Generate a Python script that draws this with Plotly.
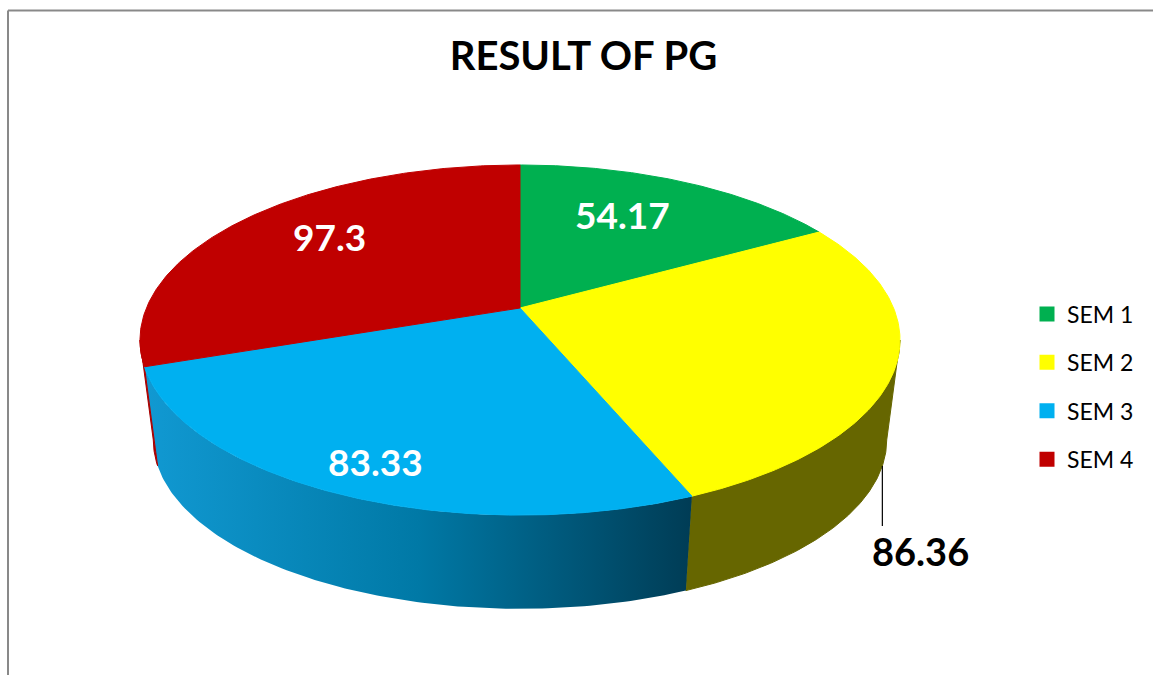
import numpy as np
import plotly.graph_objects as go

# ---------------- data ----------------
semesters = ["SEM 1", "SEM 2", "SEM 3", "SEM 4"]
results = [54.17, 86.36, 83.33, 97.3]
top_colors = ["#00B050", "#FFFF00", "#00B0F0", "#C00000"]
side_colors = ["#00703a", "#666600", "#0079a6", "#a80000"]
blue_side_scale = [[0, "#1199d2"], [0.5, "#0079a6"], [1, "#003c55"]]
label_colors = ["white", "black", "white", "white"]
label_outside = [False, True, False, False]
label_radius = [0.65, 1.0, 0.86, 0.70]
label_nudge = [(-9, -7), (0, -2), (9, -1), (8, -8)]
title_text = "RESULT OF PG"

# ---------------- pseudo 3D geometry (perspective projected disc) ----------------
W, H = 1153, 675
CX, CY = 520, 308        # projected centre of the top face
G, S, K = 373.6, 169.2, 0.183
SB, TB = 0.965, 101      # bottom face scale and drop


def top_pt(theta, rho=1.0):
    c, s = np.cos(theta), np.sin(theta)
    den = 1 + K * rho * c
    return CX + G * rho * s / den, CY - S * rho * c / den


def bot_pt(theta):
    c, s = np.cos(theta), np.sin(theta)
    den = 1 + K * c
    return CX + G * SB * s / den, CY + TB - S * SB * c / den


vals = np.array(results, dtype=float)
cum = np.concatenate([[0], np.cumsum(vals)]) / vals.sum() * 2 * np.pi
theta_s = np.arccos(-K)
vis_lo, vis_hi = theta_s, 2 * np.pi - theta_s

fig = go.Figure()

# side walls
for i in range(len(vals)):
    a, b = max(cum[i], vis_lo), min(cum[i + 1], vis_hi)
    if b <= a:
        continue
    th = np.linspace(a, b, 120)
    tx, ty = top_pt(th)
    bx, by = bot_pt(th[::-1])
    xs = np.concatenate([tx, bx, tx[:1]])
    ys = np.concatenate([ty, by, ty[:1]])
    kw = dict(x=xs, y=ys, mode="lines", fill="toself", hoverinfo="skip",
              showlegend=False)
    if i == 2:
        fig.add_trace(go.Scatter(**kw, line=dict(width=0, color=side_colors[i]),
                                 fillgradient=dict(type="horizontal",
                                                   colorscale=blue_side_scale)))
    else:
        fig.add_trace(go.Scatter(**kw, line=dict(width=1, color=side_colors[i]),
                                 fillcolor=side_colors[i]))

# top faces
for i in range(len(vals)):
    th = np.linspace(cum[i], cum[i + 1], 200)
    ax_, ay_ = top_pt(th)
    xs = np.concatenate([[CX], ax_, [CX]])
    ys = np.concatenate([[CY], ay_, [CY]])
    fig.add_trace(go.Scatter(x=xs, y=ys, mode="lines", fill="toself",
                             fillcolor=top_colors[i],
                             line=dict(width=1, color=top_colors[i]),
                             hoverinfo="skip", showlegend=False))

# legend entries
for i, name in enumerate(semesters):
    fig.add_trace(go.Scatter(x=[None], y=[None], mode="markers", name=name,
                             marker=dict(symbol="square", size=15,
                                         color=top_colors[i]),
                             legendgroup=name, hoverinfo="skip"))

# data labels
annotations = []
for i, v in enumerate(results):
    mid = (cum[i] + cum[i + 1]) / 2
    dx, dy = label_nudge[i]
    if label_outside[i]:
        ax0, ay0 = bot_pt(mid)
        fig.add_trace(go.Scatter(x=[ax0, ax0], y=[ay0, ay0 + 60], mode="lines",
                                 line=dict(color="black", width=1.2),
                                 hoverinfo="skip", showlegend=False))
        annotations.append(dict(x=ax0 + 38 + dx, y=ay0 + 87 + dy, text=f"{v:g}",
                                showarrow=False, xref="x", yref="y",
                                font=dict(family="Lato", size=38, weight=700,
                                          color=label_colors[i])))
    else:
        lx, ly = top_pt(mid, label_radius[i])
        annotations.append(dict(x=lx + dx, y=ly + dy, text=f"{v:g}",
                                showarrow=False, xref="x", yref="y",
                                font=dict(family="Lato", size=37, weight=700,
                                          color=label_colors[i])))

fig.update_layout(
    width=W, height=H,
    margin=dict(l=0, r=0, t=0, b=0),
    paper_bgcolor="white", plot_bgcolor="white",
    xaxis=dict(range=[0, W], visible=False, fixedrange=True),
    yaxis=dict(range=[H, 0], visible=False, fixedrange=True),
    title=dict(text=title_text, x=583.5 / W, xanchor="center",
               y=1 - 56 / H, yanchor="middle",
               font=dict(family="Lato", size=40, weight=700, color="black")),
    legend=dict(x=1027 / W, xanchor="left", y=1 - 387 / H, yanchor="middle",
                font=dict(family="Lato", size=23, color="black"),
                tracegroupgap=15.5, bgcolor="rgba(0,0,0,0)"),
    annotations=annotations,
    shapes=[
        dict(type="line", xref="paper", yref="paper", x0=8 / W, x1=1,
             y0=1 - 10.5 / H, y1=1 - 10.5 / H,
             line=dict(color="#898989", width=2)),
        dict(type="line", xref="paper", yref="paper", x0=8 / W, x1=8 / W,
             y0=0, y1=1 - 10.5 / H, line=dict(color="#898989", width=2)),
    ],
)

fig.write_html("out.html", config={"displayModeBar": False},
               post_script="document.body.style.margin='0';")
